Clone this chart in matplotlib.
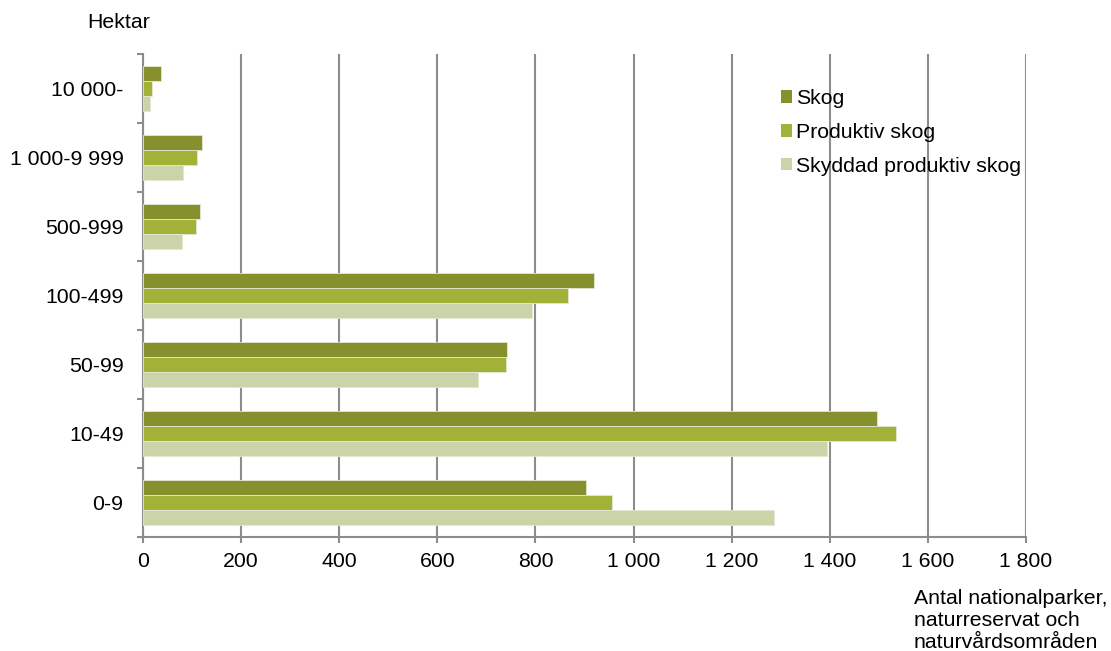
import matplotlib
matplotlib.use("Agg")
import matplotlib.pyplot as plt
from matplotlib.patches import Patch
import numpy as np

plt.rcParams['font.family'] = ['Liberation Sans', 'DejaVu Sans']

categories = ["0-9", "10-49", "50-99", "100-499", "500-999", "1 000-9 999", "10 000-"]
skog = [903, 1496, 741, 920, 116, 120, 37]
produktiv = [957, 1535, 740, 867, 109, 110, 18]
skyddad = [1287, 1395, 682, 793, 79, 82, 14]
series_names = ["Skog", "Produktiv skog", "Skyddad produktiv skog"]
colors = ["#86902D", "#A2B138", "#CBD3A8"]
xticks = [0, 200, 400, 600, 800, 1000, 1200, 1400, 1600, 1800]
xticklabels = ["0", "200", "400", "600", "800", "1 000", "1 200", "1 400", "1 600", "1 800"]

FS = 15.3
W, H = 1111, 651
fig = plt.figure(figsize=(W / 100, H / 100), dpi=100)
ax = fig.add_axes([143 / W, 1 - 537 / H, (1026 - 143) / W, (537 - 54) / H])

y = np.arange(len(categories))
h = 0.217
for vals, off, c, name in zip([skog, produktiv, skyddad], [h, 0, -h], colors, series_names):
    ax.barh(y + off, vals, height=h, color=c, edgecolor="#E4E8D2", linewidth=0.6,
            label=name, zorder=3)

ax.set_xlim(0, 1800)
ax.set_ylim(-0.5, len(categories) - 0.5)
ax.set_xticks(xticks)
ax.set_xticklabels(xticklabels, fontsize=FS)
ax.set_yticks(y)
ax.set_yticklabels(categories, fontsize=FS)
ax.set_yticks(np.arange(len(categories) + 1) - 0.5, minor=True)
ax.tick_params(axis='y', which='major', length=0, pad=14)
ax.tick_params(axis='y', which='minor', length=4, width=1.5, color="#8C8C8C", direction='out')
ax.tick_params(axis='x', which='major', length=4, width=1.5, color="#8C8C8C", pad=7)

ax.grid(axis='x', color="#8C8C8C", linewidth=1.5, zorder=0)
ax.set_axisbelow(True)
for s in ['top', 'right']:
    ax.spines[s].set_visible(False)
for s in ['left', 'bottom']:
    ax.spines[s].set_color("#8C8C8C")
    ax.spines[s].set_linewidth(1.5)

handles = [Patch(facecolor=c, edgecolor='none') for c in colors]
fig.legend(handles, series_names, loc='upper left', bbox_to_anchor=(781 / W, 1 - 89 / H),
           frameon=False, fontsize=FS, handlelength=0.52, handleheight=0.52,
           handletextpad=0.2, labelspacing=0.7, borderpad=0, borderaxespad=0)

fig.text(87 / W, 1 - 22 / H, "Hektar", fontsize=FS, ha='left', va='center')
fig.text(914 / W, 1 - 589 / H, "Antal nationalparker,\nnaturreservat och\nnaturvårdsområden",
         fontsize=FS, ha='left', va='top', linespacing=1.2)

fig.savefig("out.png", dpi=100)
